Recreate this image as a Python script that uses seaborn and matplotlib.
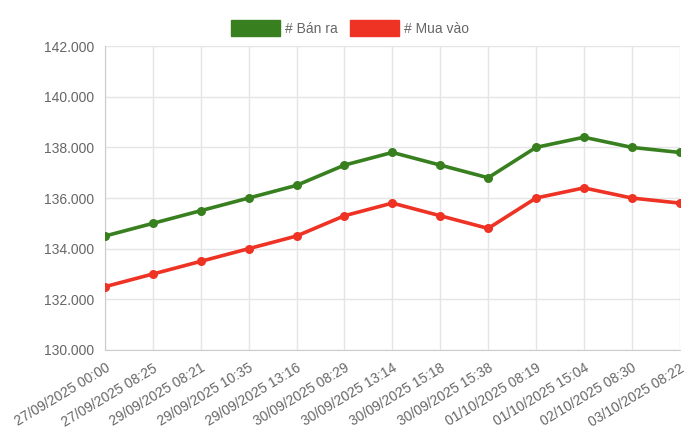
import matplotlib
matplotlib.use("Agg")
import matplotlib.pyplot as plt
import matplotlib.ticker as mticker
from matplotlib.patches import Patch
import seaborn as sns
import pandas as pd

labels = ["27/09/2025 00:00", "27/09/2025 08:25", "29/09/2025 08:21", "29/09/2025 10:35",
          "29/09/2025 13:16", "30/09/2025 08:29", "30/09/2025 13:14", "30/09/2025 15:18",
          "30/09/2025 15:38", "01/10/2025 08:19", "01/10/2025 15:04", "02/10/2025 08:30",
          "03/10/2025 08:22"]
ban_ra = [134500, 135000, 135500, 136000, 136500, 137300, 137800, 137300, 136800,
          138000, 138400, 138000, 137800]
mua_vao = [132500, 133000, 133500, 134000, 134500, 135300, 135800, 135300, 134800,
           136000, 136400, 136000, 135800]
series_names = ["# Bán ra", "# Mua vào"]
colors = ["#38801f", "#ee3224"]

sns.set_style("white")
plt.rcParams['font.family'] = ['Liberation Sans', 'DejaVu Sans']

rows = []
for i, lab in enumerate(labels):
    rows.append({"x": i, "value": ban_ra[i], "series": series_names[0]})
    rows.append({"x": i, "value": mua_vao[i], "series": series_names[1]})
df = pd.DataFrame(rows)

fig = plt.figure(figsize=(7, 4.45), dpi=100)
ax = fig.add_axes([0.15, 0.2135, 0.821, 0.683])

sns.lineplot(data=df, x="x", y="value", hue="series", hue_order=series_names,
             palette=colors, marker="o", markersize=6.5, markeredgewidth=0,
             linewidth=2.6, ax=ax, legend=False, zorder=3)

ax.set_xlim(0, len(labels) - 1)
ax.set_ylim(130000, 142000)
ax.set_xticks(range(len(labels)))
ax.set_xticklabels(labels, rotation=31, ha="right", rotation_mode="anchor")
ax.yaxis.set_major_locator(mticker.MultipleLocator(2000))
ax.yaxis.set_major_formatter(mticker.FuncFormatter(lambda v, p: f"{int(v):,}".replace(",", ".")))
ax.set_xlabel("")
ax.set_ylabel("")

ax.grid(True, color="#e5e5e5", linewidth=1)
for s in ["top", "right"]:
    ax.spines[s].set_visible(False)
ax.spines["left"].set_color("#cccccc")
ax.spines["bottom"].set_color("#cccccc")
ax.tick_params(axis="both", which="both", length=6, color="#e5e5e5",
               labelcolor="#666666", labelsize=10, pad=2)

handles = [Patch(facecolor=c, edgecolor=c, label=n) for c, n in zip(colors, series_names)]
leg = fig.legend(handles=handles, loc="center", bbox_to_anchor=(0.5, 0.937), ncol=2,
                 frameon=False, handlelength=3.5, handleheight=1.3, handletextpad=0.35,
                 columnspacing=0.9, fontsize=10)
for t in leg.get_texts():
    t.set_color("#666666")

fig.savefig("out.png", dpi=100)
